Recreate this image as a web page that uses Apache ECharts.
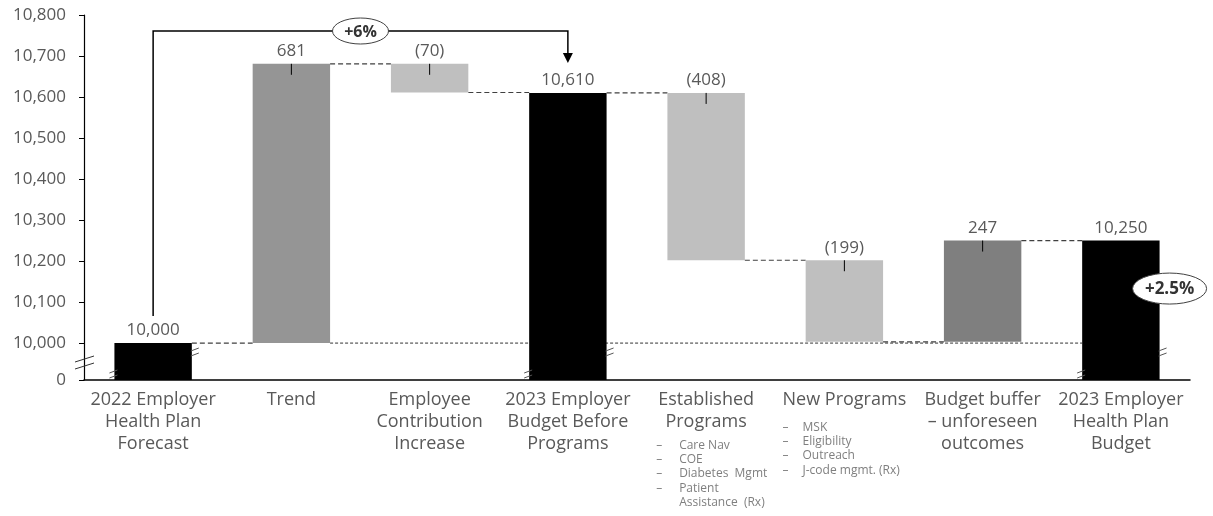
<!DOCTYPE html>
<html>
<head>
<meta charset="utf-8">
<script src="https://cdn.jsdelivr.net/npm/echarts@6/dist/echarts.min.js"></script>
<style>
    html, body { margin: 0; padding: 0; background: #fff; }
    #chart { width: 1213px; height: 516px; }
</style>
</head>
<body>
<div id="chart"></div>
<script>
const categories = [
    '2022 Employer\nHealth Plan\nForecast',
    'Trend',
    'Employee\nContribution\nIncrease',
    '2023 Employer\nBudget Before\nPrograms',
    'Established\nPrograms',
    'New Programs',
    'Budget buffer\n– unforeseen\noutcomes',
    '2023 Employer\nHealth Plan\nBudget'
]
const subItems = [[], [], [], [],
    ['Care Nav', 'COE', 'Diabetes  Mgmt', 'Patient\nAssistance  (Rx)'],
    ['MSK', 'Eligibility', 'Outreach', 'J-code mgmt. (Rx)'],
    [], []]
const changes = [10000, 681, -70, 10610, -408, -199, 247, 10250]
const isTotal = [true, false, false, true, false, false, false, true]
const valueLabels = ['10,000', '681', '(70)', '10,610', '(408)', '(199)', '247', '10,250']
const barColors = ['#000000', '#959595', '#bfbfbf', '#000000', '#bfbfbf', '#bfbfbf', '#7f7f7f', '#000000']
const yTicks = [10000, 10100, 10200, 10300, 10400, 10500, 10600, 10700, 10800]
const axisBase = 9910   // drawn as "0" (broken axis)
const baseline = 10000
const growth = [
    { from: 0, to: 3, text: '+6%' },
    { from: 7, to: 7, text: '+2.5%' }
]

// waterfall ranges
let running = 0
const lows = [], highs = [], ends = []
changes.forEach((c, i) => {
    if (isTotal[i]) {
        lows.push(axisBase); highs.push(c); running = c
    } else {
        lows.push(Math.min(running, running + c)); highs.push(Math.max(running, running + c)); running += c
    }
    ends.push(running)
})

const BAR = 0.56
const FONT = '"Open Sans", sans-serif'

function breakMark(cx, cy) {
    return [
        { type: 'line', shape: { x1: cx - 4, y1: cy - 1, x2: cx + 4, y2: cy - 4 }, style: { stroke: '#555', lineWidth: 1 } },
        { type: 'line', shape: { x1: cx - 4, y1: cy + 4, x2: cx + 4, y2: cy + 1 }, style: { stroke: '#555', lineWidth: 1 } }
    ]
}

function ellipse(cx, cy, w, h, text, size) {
    return [
        { type: 'path', shape: { pathData: 'M0,50 A50,50 0 1,1 100,50 A50,50 0 1,1 0,50 Z', x: cx - w / 2, y: cy - h / 2, width: w, height: h, layout: 'cover' },
          style: { fill: '#fff', stroke: '#404040', lineWidth: 1 } },
        { type: 'text', style: { text: text, x: cx, y: cy + 1, align: 'center', verticalAlign: 'middle', fill: '#333', font: 'bold ' + size + 'px ' + FONT } }
    ]
}

function renderBar(params, api) {
    const i = api.value(0)
    const top = api.coord([i, highs[i]])
    const bot = api.coord([i, lows[i]])
    const band = api.size([1, 0])[0]
    const bw = band * BAR
    const xl = top[0] - bw / 2
    const children = []

    if (i === 0) {
        // dotted reference line at 10,000
        const a = api.coord([1, baseline])
        const b = api.coord([categories.length - 1, baseline])
        children.push({ type: 'line', shape: { x1: a[0] + bw / 2, y1: a[1], x2: b[0] - bw / 2, y2: b[1] },
            style: { stroke: '#333', lineWidth: 1, lineDash: [3, 2] } })
    }

    children.push({ type: 'rect', shape: { x: xl, y: top[1], width: bw, height: bot[1] - top[1] }, style: { fill: barColors[i] } })
    children.push({ type: 'text', style: { text: valueLabels[i], x: top[0], y: top[1] - 4, align: 'center', verticalAlign: 'bottom',
        fill: '#595959', font: '17px ' + FONT } })

    if (!isTotal[i]) {
        children.push({ type: 'line', shape: { x1: top[0], y1: top[1], x2: top[0], y2: top[1] + 11 }, style: { stroke: '#000', lineWidth: 1 } })
    } else {
        breakMark(xl - 1, bot[1] - 6).forEach(e => children.push(e))
        breakMark(xl + bw + 3, bot[1] - 28).forEach(e => children.push(e))
    }

    if (i < categories.length - 1) {
        const p = api.coord([i, ends[i]])
        const n = api.coord([i + 1, ends[i]])
        children.push({ type: 'line', shape: { x1: xl + bw, y1: p[1], x2: n[0] - bw / 2, y2: p[1] },
            style: { stroke: '#404040', lineWidth: 1.2, lineDash: [5, 3] } })
    }
    return { type: 'group', children: children }
}

function renderNote(params, api) {
    const g = growth[params.dataIndex]
    const cs = params.coordSys
    const children = []
    const a = api.coord([g.from, highs[g.from]])
    if (g.from !== g.to) {
        const b = api.coord([g.to, highs[g.to]])
        const yb = cs.y + 16
        children.push({ type: 'polyline', shape: { points: [[a[0], a[1] - 27], [a[0], yb], [b[0], yb], [b[0], b[1] - 38]] },
            style: { stroke: '#000', lineWidth: 1.5, fill: null } })
        children.push({ type: 'polygon', shape: { points: [[b[0] - 5, b[1] - 40], [b[0] + 5, b[1] - 40], [b[0], b[1] - 30]] }, style: { fill: '#000' } })
        ellipse((a[0] + b[0]) / 2, yb, 56, 26, g.text, 16).forEach(e => children.push(e))
    } else {
        const bw = api.size([1, 0])[0] * BAR
        ellipse(a[0] + bw / 2 + 10, a[1] + 48, 74, 31, g.text, 17).forEach(e => children.push(e))
    }
    if (params.dataIndex === 0) {
        // break on the y axis
        const y0 = cs.y + cs.height
        children.push({ type: 'line', shape: { x1: cs.x - 9, y1: y0 - 18, x2: cs.x + 10, y2: y0 - 24 }, style: { stroke: '#333', lineWidth: 1 } })
        children.push({ type: 'line', shape: { x1: cs.x - 9, y1: y0 - 11, x2: cs.x + 10, y2: y0 - 17 }, style: { stroke: '#333', lineWidth: 1 } })
    }
    return { type: 'group', children: children }
}

function catLabel(v, idx) {
    const lines = categories[idx].split('\n').map(s => '{m|' + s + '}')
    const subs = subItems[idx]
    if (subs.length) {
        lines.push('{g' + idx + '| }')
        subs.forEach(s => {
            s.split('\n').forEach((part, k) => {
                lines.push('{d' + idx + '|' + (k === 0 ? '–' : ' ') + '}{t' + idx + '|' + part + '}')
            })
        })
    }
    return lines.join('\n')
}

const sub = { fontSize: 12, lineHeight: 14.4, color: '#7f7f7f', align: 'left', fontFamily: FONT }
const rich = {
    m: { fontSize: 18, lineHeight: 22, color: '#595959', fontFamily: FONT },
    g4: { fontSize: 2, lineHeight: 5 },
    g5: { fontSize: 2, lineHeight: 9 },
    d4: Object.assign({ width: 23 }, sub),
    t4: Object.assign({ width: 77 }, sub),
    d5: Object.assign({ width: 20 }, sub),
    t5: Object.assign({ width: 88 }, sub)
}

const chart = echarts.init(document.getElementById('chart'))
chart.setOption({
    animation: false,
    grid: { left: 84, right: 23, top: 15, bottom: 136, containLabel: false },
    xAxis: {
        type: 'category',
        data: categories,
        axisLine: { lineStyle: { color: '#000', width: 1.5 } },
        axisTick: { show: false },
        axisLabel: { interval: 0, margin: 9, formatter: catLabel, rich: rich, color: '#595959', fontSize: 18, fontFamily: FONT }
    },
    yAxis: {
        type: 'value',
        min: axisBase,
        max: yTicks[yTicks.length - 1],
        splitLine: { show: false },
        axisLine: { show: true, lineStyle: { color: '#000', width: 1.2 } },
        axisTick: { show: true, length: 5, lineStyle: { color: '#000' }, customValues: [axisBase].concat(yTicks) },
        axisLabel: {
            customValues: [axisBase].concat(yTicks),
            margin: 18,
            color: '#595959',
            fontSize: 17,
            fontFamily: FONT,
            formatter: v => v === axisBase ? '0' : v.toLocaleString('en-US')
        }
    },
    series: [
        {
            type: 'custom',
            z: 2,
            renderItem: renderBar,
            encode: { x: 0, y: [1, 2] },
            data: categories.map((c, i) => [i, lows[i], highs[i]])
        },
        {
            type: 'custom',
            z: 3,
            renderItem: renderNote,
            encode: { x: 0, y: 1 },
            data: growth.map(g => [g.from, highs[g.from]])
        }
    ]
})
</script>
</body>
</html>
